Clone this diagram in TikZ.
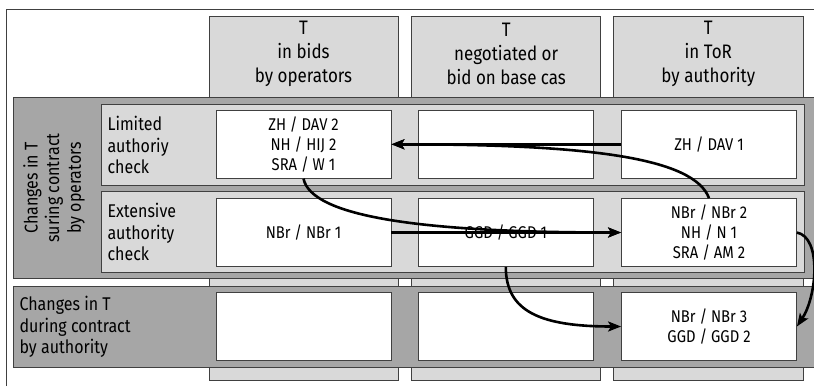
\documentclass[tikz,border=0pt]{standalone}
\usepackage{fontspec}
\setmainfont[FakeStretch=0.87]{Fira Sans}
\usetikzlibrary{arrows.meta}

\definecolor{bandgray}{HTML}{A6A6A6}
\definecolor{boxgray}{HTML}{D9D9D9}
\definecolor{edgegray}{HTML}{404040}

\tikzset{
  colbox/.style={draw=edgegray, fill=boxgray, line width=0.8pt},
  band/.style={draw=edgegray, fill=bandgray, line width=0.8pt},
  subband/.style={draw=edgegray, fill=boxgray, line width=0.8pt},
  cell/.style={draw=edgegray, fill=white, line width=0.8pt, minimum width=175pt,
    minimum height=68pt, inner sep=0pt, align=center, font=\fontsize{17}{20}\selectfont},
  hdr/.style={align=center, font=\fontsize{19.5}{24}\selectfont},
  lbl/.style={align=left, anchor=west, font=\fontsize{18.4}{21.7}\selectfont},
  flow/.style={-{Stealth[length=13pt,width=10pt,inset=3pt]}, line width=2.6pt},
}

\begin{document}
\begin{tikzpicture}[x=1pt,y=-1pt]
            \useasboundingbox (0,0) rectangle (814,386);
            \draw[edgegray, line width=0.8pt] (6,386) -- (6,9.3) -- (816,9.3);

            \draw[colbox] (209,16) rectangle (398,380);
            \draw[colbox] (411.7,16) rectangle (600.7,380);
            \draw[colbox] (613.3,16) rectangle (803.3,380);
            \node[hdr] (h1) at (303.5,54) {T\\in bids\\by operators};
            \node[hdr] (h2) at (506.2,54) {T\\negotiated or\\bid on base cas};
            \node[hdr] (h3) at (708.3,54) {T\\in ToR\\by authority};

            \draw[band] (13.3,97.7) rectangle (816,278.7);
            \draw[subband] (101,104.3) rectangle (804,185);
            \draw[subband] (101,191) rectangle (804,272.7);
            \draw[band] (13.3,286) rectangle (816,367.7);

            \node[lbl, anchor=center, align=center, rotate=90] (opr) at (54,188) {Changes in T\\suring contract\\by operators};
            \node[lbl] (lim) at (104,145) {Limited\\authoriy\\check};
            \node[lbl] (ext) at (104,232) {Extensive\\authority\\check};
            \node[lbl] (aut) at (16,327) {Changes in T\\during contract\\by authority};

            \node[cell] (c11) at (303.5,144.3) {ZH / DAV 2\\NH / HIJ 2\\SRA / W 1};
            \node[cell] (c21) at (505.8,144.3) {};
            \node[cell] (c31) at (709,144.3) {ZH / DAV 1};
            \node[cell] (c12) at (303.5,232.5) {NBr / NBr 1};
            \node[cell] (c22) at (505.8,232.5) {GGD / GGD 1};
            \node[cell] (c32) at (709,232.5) {NBr / NBr 2\\NH / N 1\\SRA / AM 2};
            \node[cell] (c13) at (303.5,326.5) {};
            \node[cell] (c23) at (505.8,326.5) {};
            \node[cell] (c33) at (709,326.5) {NBr / NBr 3\\GGD / GGD 2};

            \draw[flow] (c31.west) -- (c11.east);
            \draw[flow] (c32.north) .. controls +(-15,-40) and +(200,0) .. (c11.east);
            \draw[flow] (c12.east) -- (c32.west);
            \draw[flow] (c11.south) .. controls +(8,38) and +(-200,0) .. (c32.west);
            \draw[flow] (c22.south) .. controls +(0,45) and +(-80,0) .. (c33.west);
            \draw[flow] (c32.east) .. controls +(25,5) and +(20,-30) .. (c33.east);
\end{tikzpicture}
\end{document}
